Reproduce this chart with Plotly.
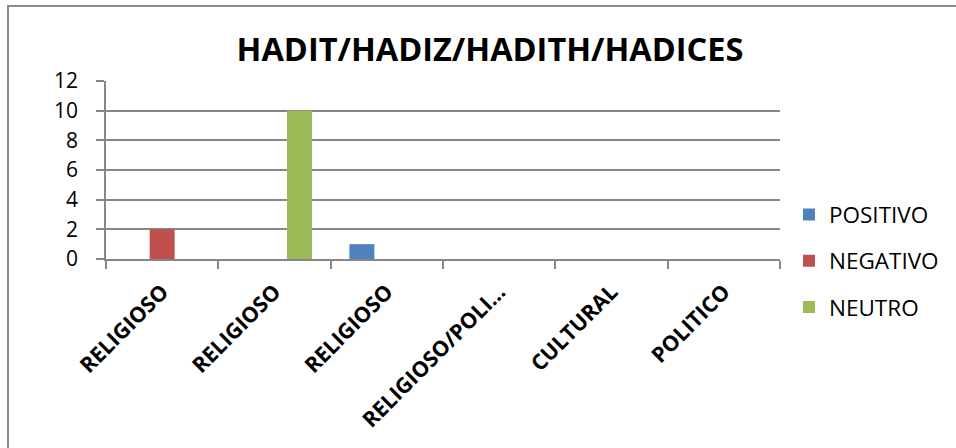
import plotly.graph_objects as go

# Category labels along the x axis (one slot per article)
categories = ["RELIGIOSO", "RELIGIOSO", "RELIGIOSO", "RELIGIOSO/POLI…", "CULTURAL", "POLITICO"]

# Counts per tone
positivo = [0, 0, 1, 0, 0, 0]
negativo = [2, 0, 0, 0, 0, 0]
neutro = [0, 10, 0, 0, 0, 0]

y_ticks = [0, 2, 4, 6, 8, 10, 12]

series = [
    ("POSITIVO", positivo, "#4F81BD"),
    ("NEGATIVO", negativo, "#C0504D"),
    ("NEUTRO", neutro, "#9BBB59"),
]

slots = list(range(len(categories)))
FONT = "Open Sans"
GRID = "#878787"

fig = go.Figure()
for name, vals, color in series:
    fig.add_trace(go.Bar(
        x=slots, y=vals, name=name, legendgroup=name,
        marker=dict(color=color, line=dict(width=0)),
    ))

W, H = 956, 448
L, R, T, B = 106, 176, 81, 189
pw, ph = W - L - R, H - T - B

fig.update_layout(
    width=W, height=H,
    margin=dict(l=L, r=R, t=T, b=B),
    paper_bgcolor="white", plot_bgcolor="white",
    barmode="group", bargap=0.333, bargroupgap=0,
    font=dict(family=FONT, color="black"),
    title=dict(
        text="<b>HADIT/HADIZ/HADITH/HADICES</b>",
        font=dict(family=FONT, size=32.5, color="black"),
        x=490 / W, xanchor="center", xref="container",
        y=1 - 50 / H, yanchor="middle", yref="container",
    ),
    legend=dict(
        x=(789 - L) / pw, xanchor="left",
        y=-0.01, yanchor="middle",
        font=dict(family=FONT, size=22.5, color="black"),
        itemwidth=30, traceorder="grouped", tracegroupgap=14,
        bgcolor="rgba(0,0,0,0)",
    ),
    showlegend=True,
)

fig.update_xaxes(
    range=[-0.5, len(categories) - 0.5],
    tickmode="array", tickvals=slots, ticktext=categories,
    tickangle=-45,
    tickfont=dict(family=FONT, size=21.5, color="black", weight="bold"),
    ticks="outside", ticklen=0, ticklabelstandoff=10,
    minor=dict(ticks="outside", ticklen=8, tick0=-0.5, dtick=1,
               tickcolor=GRID, tickwidth=1.5, showgrid=False),
    showgrid=False, zeroline=False,
    showline=True, linecolor=GRID, linewidth=1.5,
    fixedrange=True,
)

fig.update_yaxes(
    range=[0, 12],
    tickmode="array", tickvals=y_ticks,
    tickfont=dict(family=FONT, size=21, color="black"),
    ticks="outside", ticklen=8, tickcolor=GRID, tickwidth=1.5,
    ticklabelstandoff=14,
    showgrid=True, gridcolor=GRID, gridwidth=1.5,
    zeroline=False,
    showline=True, linecolor=GRID, linewidth=1.5,
    fixedrange=True,
)

# Frame around the chart area
fig.add_shape(
    type="rect", xref="paper", yref="paper",
    x0=(8 - L) / pw, x1=(W + 10 - L) / pw,
    y0=(T + ph - (H + 10)) / ph, y1=(T + ph - 6) / ph,
    line=dict(color="#8C8C8C", width=2), fillcolor="rgba(0,0,0,0)",
    layer="below",
)

fig.write_html("out.html")
